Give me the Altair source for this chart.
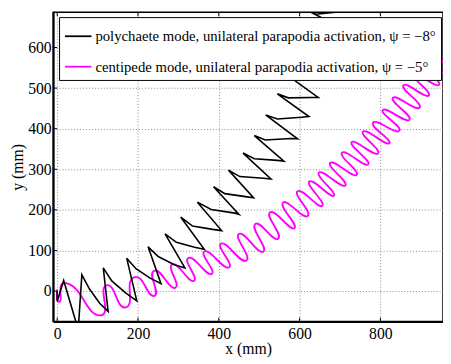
import altair as alt
import pandas as pd

# ---- data (mm) ----
poly_x = [0, 0, 16, 52, 61, 80, 105, 126, 114, 135, 170, 197, 172, 195, 230, 257,
          225, 250, 290, 316, 267, 295, 340, 364, 306, 335, 385, 407, 347, 381, 440, 450,
          387, 415, 470, 486, 424, 452, 510, 529, 460, 488, 545, 561, 488, 515, 578, 595,
          516, 545, 605, 623, 545, 572, 630, 646, 571, 598, 655, 672, 595, 622, 680, 698,
          608, 635, 700, 720, 618, 640, 720, 740]
poly_y = [0, -25, 26, -95, 40, 5, -30, -50, 57, 25, -5, -24, 81, 55, 32, 18,
          109, 85, 65, 57, 141, 120, 108, 103, 182, 160, 152, 149, 219, 201, 192, 189,
          257, 240, 232, 230, 298, 282, 278, 276, 340, 326, 322, 320, 383, 372, 376, 375,
          434, 424, 428, 430, 486, 476, 477, 477, 531, 520, 533, 536, 577, 568, 582, 588,
          635, 625, 636, 640, 692, 682, 690, 695]

# centipede: start, then alternating turning points (upper, lower)
centi_x = [0, 6,
           28, 105, 122, 170, 190, 240, 240, 292, 285, 338, 325, 382, 365, 425,
           406, 468, 450, 510, 490, 547, 527, 587, 559, 620, 595, 656, 624, 685,
           648, 713, 676, 741, 705, 770, 729, 794, 757, 822, 782, 847, 806, 872,
           831, 897, 857, 920, 880, 945, 905, 970, 930]
centi_y = [4, -26,
           18, -60, 14, -40, 34, -12, 50, 8, 66, 25, 82, 42, 98, 58,
           117, 75, 141, 97, 165, 129, 194, 155, 218, 185, 246, 210, 270, 235,
           292, 260, 316, 286, 341, 312, 367, 339, 393, 364, 415, 395, 446, 422,
           476, 452, 507, 482, 536, 508, 562, 535, 590]

series_names = ["polychaete mode, unilateral parapodia activation, ψ = −8°",
                "centipede mode, unilateral parapodia activation, ψ = −5°"]
series_colors = ["#000000", "#ff00ff"]

x_ticks = [0, 200, 400, 600, 800]
y_ticks = [0, 100, 200, 300, 400, 500, 600]
x_domain = [-10, 955]
y_domain = [-75, 687]

poly = pd.DataFrame({"x": poly_x, "y": poly_y, "series": series_names[0],
                     "i": range(len(poly_x))})
centi = pd.DataFrame({"x": centi_x, "y": centi_y, "series": series_names[1],
                      "i": range(len(centi_x))})

W, H = 397, 315
FONT = "Liberation Serif"

xs = alt.Scale(domain=x_domain, nice=False, zero=False)
ys = alt.Scale(domain=y_domain, nice=False, zero=False)
color = alt.Color(
    "series:N",
    scale=alt.Scale(domain=series_names, range=series_colors),
    legend=alt.Legend(
        orient="none", legendX=6, legendY=5, title=None,
        symbolType="stroke", symbolSize=729, symbolStrokeWidth=1.8,
        labelFont=FONT, labelFontSize=15, labelColor="black", labelLimit=420,
        strokeColor="black", fillColor="white", padding=5, rowPadding=8,
        labelOffset=3,
    ),
)

xax = alt.Axis(values=x_ticks, title="x (mm)", grid=True, ticks=False, labelPadding=4,
               titlePadding=0)
yax = alt.Axis(values=y_ticks, title="y (mm)", grid=True, ticks=False, labelPadding=2,
               titlePadding=2)

black = alt.Chart(poly).mark_line(clip=True, strokeWidth=1.6).encode(
    x=alt.X("x:Q", scale=xs, axis=xax),
    y=alt.Y("y:Q", scale=ys, axis=yax),
    color=color,
    order="i:Q",
)
magenta = alt.Chart(centi).mark_line(
    clip=True, strokeWidth=1.9, interpolate="cardinal", tension={"expr": "-1.1"}
).encode(
    x=alt.X("x:Q", scale=xs),
    y=alt.Y("y:Q", scale=ys),
    color=color,
    order="i:Q",
)

xt = pd.DataFrame({"v": x_ticks})
yt = pd.DataFrame({"v": y_ticks})
xtick_b = alt.Chart(xt).mark_rule(color="black", strokeWidth=1).encode(
    x=alt.X("v:Q", scale=xs), y=alt.value(H), y2=alt.value(H - 4))
xtick_t = alt.Chart(xt).mark_rule(color="black", strokeWidth=1).encode(
    x=alt.X("v:Q", scale=xs), y=alt.value(0), y2=alt.value(4))
ytick_l = alt.Chart(yt).mark_rule(color="black", strokeWidth=1).encode(
    y=alt.Y("v:Q", scale=ys), x=alt.value(0), x2=alt.value(4))

chart = alt.layer(magenta, black, xtick_b, xtick_t, ytick_l).properties(
    width=W, height=H,
    autosize=alt.AutoSizeParams(type="none"),
    padding={"left": 46, "top": 1, "right": 0, "bottom": 40},
).configure_view(
    stroke="black", strokeWidth=1.5
).configure_axis(
    labelFont=FONT, titleFont=FONT, labelFontSize=16, titleFontSize=16,
    titleFontWeight="normal", labelColor="black", titleColor="black",
    domainColor="black", domainWidth=2,
    gridColor="#888888", gridDash=[1, 2], gridWidth=1, gridOpacity=1,
)

chart.save("out.html", embed_options={"renderer": "svg", "actions": False})
